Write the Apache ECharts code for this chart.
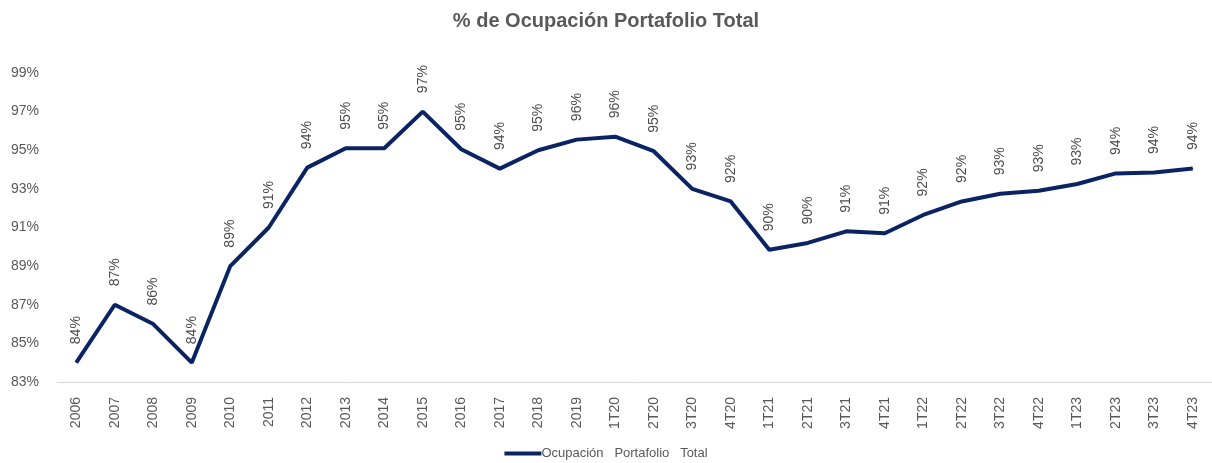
<!DOCTYPE html>
<html>
<head>
<meta charset="utf-8">
<script src="https://cdn.jsdelivr.net/npm/echarts@6/dist/echarts.min.js"></script>
<style>
  html, body { margin: 0; padding: 0; background: #fff; }
  #chart { width: 1212px; height: 463px; }
</style>
</head>
<body>
<div id="chart"></div>
<script>
// periods on the x axis
const periods = [
  '2006', '2007', '2008', '2009', '2010', '2011', '2012', '2013', '2014', '2015',
  '2016', '2017', '2018', '2019', '1T20', '2T20', '3T20', '4T20', '1T21', '2T21',
  '3T21', '4T21', '1T22', '2T22', '3T22', '4T22', '1T23', '2T23', '3T23', '4T23'
];
// occupancy, percent
const ocupacion = [
  84, 87, 86, 84, 89, 91, 94.1, 95.1, 95.1, 97,
  95.05, 94.05, 95.0, 95.55, 95.7, 94.95, 93.0, 92.35, 89.85, 90.2,
  90.8, 90.7, 91.65, 92.35, 92.75, 92.9, 93.25, 93.8, 93.85, 94.05
];
const seriesName = 'Ocupación   Portafolio   Total';

const chart = echarts.init(document.getElementById('chart'));
chart.setOption({
  animation: false,
  textStyle: { fontFamily: 'Liberation Sans, Arial, sans-serif' },
  title: {
    text: '% de Ocupación Portafolio Total',
    left: 'center',
    top: 6,
    textStyle: { fontSize: 20, fontWeight: 'bold', color: '#595959' }
  },
  legend: {
    bottom: -2,
    left: 'center',
    icon: 'rect',
    itemWidth: 37,
    itemHeight: 4,
    textStyle: { fontSize: 13, color: '#595959', padding: [0, 0, 0, -5] },
    data: [seriesName]
  },
  grid: { left: 57, top: 73, width: 1161, height: 309 },
  xAxis: {
    type: 'category',
    data: periods,
    boundaryGap: true,
    axisLine: { lineStyle: { color: '#d9d9d9', width: 1 } },
    axisTick: { show: false },
    axisLabel: { rotate: 90, fontSize: 14, color: '#595959', margin: 15 }
  },
  yAxis: {
    type: 'value',
    min: 83,
    max: 99,
    interval: 2,
    axisLine: { show: false },
    axisTick: { show: false },
    splitLine: { show: false },
    axisLabel: { fontSize: 14, color: '#595959', margin: 18, formatter: v => v + '%' }
  },
  series: [{
    name: seriesName,
    type: 'line',
    data: ocupacion,
    symbol: 'circle',
    symbolSize: 1,
    showSymbol: true,
    emphasis: { disabled: true },
    lineStyle: { color: '#0a2463', width: 4 },
    itemStyle: { color: '#0a2463' },
    label: {
      show: true,
      position: 'top',
      distance: 18,
      rotate: 90,
      align: 'left',
      verticalAlign: 'middle',
      fontSize: 14,
      color: '#4d4d4d',
      formatter: p => Math.round(p.value) + '%'
    }
  }]
});
</script>
</body>
</html>
